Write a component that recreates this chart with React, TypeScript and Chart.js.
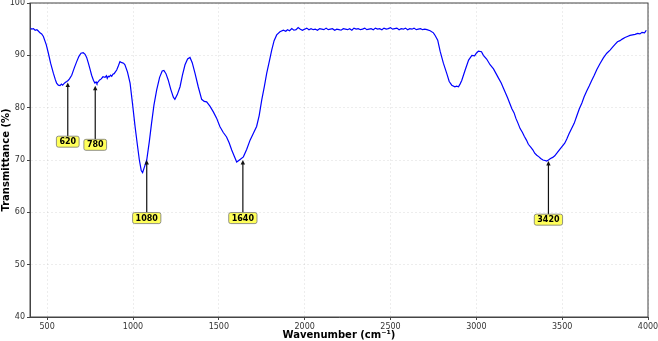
import { useEffect, useRef } from "react";
import { Chart, registerables } from "chart.js";
Chart.register(...registerables);

const wavenumbers = [
  400, 410, 420, 430, 440, 450, 458, 468, 478, 495, 507, 520, 536, 548, 555, 565, 575, 583, 590, 598, 605, 614, 622, 630, 643, 658, 672, 685, 697, 710, 721, 730, 740, 750, 759, 770, 778, 785, 790, 798, 806, 815, 825, 837, 845, 850, 856, 862, 869, 876, 883, 890, 905, 915, 924, 935, 945, 953, 968, 983, 998, 1012, 1025, 1037, 1048, 1056, 1065, 1080, 1095, 1108, 1122, 1138, 1155, 1170, 1180, 1192, 1205, 1220, 1235, 1244, 1258, 1274, 1288, 1303, 1318, 1332, 1345, 1361, 1380, 1400, 1415, 1429, 1448, 1468, 1487, 1506, 1525, 1545, 1560, 1575, 1590, 1604, 1620, 1643, 1662, 1682, 1700, 1720, 1735, 1750, 1765, 1779, 1795, 1808, 1822, 1837, 1856, 1876, 1890, 1900, 1912, 1925, 1937, 1950, 1962, 1975, 1987, 2000, 2012, 2025, 2037, 2050, 2062, 2075, 2087, 2100, 2112, 2125, 2137, 2150, 2162, 2175, 2187, 2200, 2212, 2225, 2237, 2250, 2262, 2275, 2287, 2300, 2312, 2325, 2337, 2350, 2362, 2375, 2387, 2400, 2412, 2425, 2437, 2450, 2462, 2475, 2487, 2500, 2512, 2525, 2537, 2550, 2562, 2575, 2587, 2600, 2612, 2625, 2637, 2650, 2662, 2675, 2687, 2700, 2712, 2731, 2750, 2760, 2775, 2789, 2808, 2828, 2842, 2857, 2875, 2885, 2896, 2905, 2915, 2935, 2955, 2974, 2990, 3000, 3012, 3030, 3041, 3060, 3080, 3100, 3115, 3130, 3145, 3158, 3170, 3182, 3195, 3207, 3220, 3230, 3243, 3255, 3268, 3280, 3292, 3303, 3318, 3330, 3340, 3352, 3365, 3375, 3388, 3400, 3410, 3420, 3432, 3445, 3457, 3469, 3485, 3500, 3515, 3527, 3540, 3555, 3570, 3585, 3600, 3615, 3628, 3643, 3658, 3672, 3687, 3702, 3720, 3740, 3760, 3779, 3795, 3808, 3822, 3837, 3850, 3866, 3880, 3895, 3910, 3925, 3940, 3953, 3965, 3980, 3990, 4000
];

const transmittance = [
  95.3, 95.0, 95.1, 94.8, 94.9, 94.6, 94.3, 94.1, 93.6, 92.0, 90.4, 88.5, 86.6, 85.3, 84.7, 84.3, 84.2, 84.5, 84.3, 84.6, 84.8, 85.0, 85.2, 85.5, 86.2, 87.6, 88.8, 89.8, 90.4, 90.5, 90.2, 89.6, 88.5, 87.3, 86.2, 85.2, 84.7, 84.9, 84.6, 85.0, 85.3, 85.5, 85.9, 85.8, 86.1, 85.6, 86.0, 85.9, 86.2, 86.0, 86.4, 86.5, 87.2, 88.0, 88.8, 88.6, 88.5, 88.2, 86.8, 84.7, 80.5, 76.4, 73.0, 70.0, 68.0, 67.6, 68.5, 70.0, 73.5, 77.0, 80.5, 83.4, 85.8, 87.0, 87.1, 86.5, 85.3, 83.5, 82.0, 81.6, 82.5, 84.0, 86.2, 88.2, 89.3, 89.6, 88.6, 86.6, 84.0, 81.6, 81.2, 81.1, 80.3, 79.2, 78.0, 76.4, 75.3, 74.4, 73.3, 71.9, 70.7, 69.6, 70.0, 70.6, 72.0, 73.8, 75.0, 76.4, 78.5, 81.5, 84.0, 86.6, 89.0, 91.0, 92.8, 93.9, 94.5, 94.8, 94.6, 94.9, 94.7, 95.1, 94.8, 94.9, 95.3, 95.0, 94.8, 95.0, 95.2, 94.9, 95.1, 94.9, 95.0, 94.8, 95.1, 95.0, 94.9, 95.2, 94.9, 95.0, 95.1, 94.8, 95.0, 94.9, 94.8, 95.1, 95.0, 94.9, 95.1, 94.8, 95.2, 95.0, 95.1, 94.9, 95.0, 95.2, 94.9, 95.0, 95.1, 94.9, 95.2, 95.0, 95.1, 94.9, 95.2, 95.0, 95.1, 95.3, 95.0, 95.1, 95.2, 94.9, 95.1, 95.0, 95.2, 94.9, 95.1, 95.0, 95.2, 94.9, 95.0, 95.1, 94.9, 95.0, 94.9, 94.7, 94.3, 93.8, 92.9, 90.8, 88.5, 86.5, 85.0, 84.3, 84.0, 84.1, 84.0, 84.5, 85.2, 87.2, 89.1, 90.0, 89.9, 90.4, 90.8, 90.7, 90.0, 89.3, 88.2, 87.4, 86.5, 85.6, 84.7, 83.7, 82.8, 81.9, 80.8, 79.8, 79.0, 78.0, 77.0, 76.0, 75.3, 74.5, 73.8, 73.0, 72.4, 71.9, 71.3, 70.9, 70.6, 70.3, 70.0, 69.9, 69.8, 70.0, 70.3, 70.5, 70.8, 71.3, 72.0, 72.6, 73.2, 74.0, 75.0, 76.0, 77.0, 78.4, 79.8, 80.9, 82.1, 83.2, 84.2, 85.2, 86.2, 87.3, 88.4, 89.5, 90.4, 91.0, 91.6, 92.1, 92.6, 92.8, 93.1, 93.4, 93.6, 93.8, 93.9, 94.0, 94.2, 94.1, 94.4, 94.3, 94.8
];

const xTicks = [500, 1000, 1500, 2000, 2500, 3000, 3500, 4000];
const yTicks = [40, 50, 60, 70, 80, 90, 100];

const peakLabels = ["620", "780", "1080", "1640", "3420"];
const peakPositions = [620, 780, 1080, 1640, 3420];
const peakTipValues = [84.8, 84.2, 70.0, 70.0, 69.8];
const peakLabelValues = [73.5, 72.9, 58.9, 58.9, 58.6];

const annotationPlugin = {
  id: "peakAnnotations",
  afterDatasetsDraw(chart: any) {
    const { ctx, scales, chartArea } = chart;
    const xs = scales.x;
    const ys = scales.y;
    ctx.save();
    ctx.strokeStyle = "#444";
    ctx.lineWidth = 1;
    ctx.strokeRect(chartArea.left, chartArea.top, chartArea.right - chartArea.left, chartArea.bottom - chartArea.top);
    ctx.font = "bold 8px 'DejaVu Sans'";
    ctx.textAlign = "center";
    ctx.textBaseline = "middle";
    for (let i = 0; i < peakLabels.length; i++) {
      const x = xs.getPixelForValue(peakPositions[i]);
      const yTip = ys.getPixelForValue(peakTipValues[i]);
      const yLab = ys.getPixelForValue(peakLabelValues[i]);
      const tw = ctx.measureText(peakLabels[i]).width;
      const bw = tw + 6;
      const bh = 11;
      ctx.strokeStyle = "#111";
      ctx.lineWidth = 1.2;
      ctx.beginPath();
      ctx.moveTo(x, yLab - bh / 2);
      ctx.lineTo(x, yTip + 3);
      ctx.stroke();
      ctx.fillStyle = "#111";
      ctx.beginPath();
      ctx.moveTo(x, yTip);
      ctx.lineTo(x - 2.2, yTip + 4.5);
      ctx.lineTo(x + 2.2, yTip + 4.5);
      ctx.closePath();
      ctx.fill();
      const bx = x - bw / 2;
      const by = yLab - bh / 2;
      const r = 2;
      ctx.beginPath();
      ctx.moveTo(bx + r, by);
      ctx.lineTo(bx + bw - r, by);
      ctx.quadraticCurveTo(bx + bw, by, bx + bw, by + r);
      ctx.lineTo(bx + bw, by + bh - r);
      ctx.quadraticCurveTo(bx + bw, by + bh, bx + bw - r, by + bh);
      ctx.lineTo(bx + r, by + bh);
      ctx.quadraticCurveTo(bx, by + bh, bx, by + bh - r);
      ctx.lineTo(bx, by + r);
      ctx.quadraticCurveTo(bx, by, bx + r, by);
      ctx.closePath();
      ctx.fillStyle = "rgba(255,255,60,0.85)";
      ctx.fill();
      ctx.strokeStyle = "#777";
      ctx.lineWidth = 0.8;
      ctx.stroke();
      ctx.fillStyle = "#000";
      ctx.fillText(peakLabels[i], x, yLab + 0.5);
    }
    ctx.restore();
  },
};

export default function App() {
  const ref = useRef<HTMLCanvasElement | null>(null);
  useEffect(() => {
    const canvas = ref.current;
    if (!canvas) return;
    const points = wavenumbers.map((w, i) => ({ x: w, y: transmittance[i] }));
    const chart = new Chart(canvas, {
      type: "line",
      data: {
        datasets: [
          {
            data: points,
            borderColor: "#0000ff",
            borderWidth: 1.2,
            pointRadius: 0,
            tension: 0,
            fill: false,
          },
        ],
      },
      options: {
        responsive: false,
        animation: false,
        maintainAspectRatio: false,
        layout: { padding: { left: 0, right: 10, top: 3, bottom: 0 } },
        plugins: { legend: { display: false }, tooltip: { enabled: false } },
        scales: {
          x: {
            type: "linear",
            min: 400,
            max: 4000,
            afterBuildTicks: (s: any) => {
              s.ticks = xTicks.map((v) => ({ value: v }));
            },
            afterFit: (s: any) => {
              s.height = 24;
              s.paddingRight = 0;
              s.paddingLeft = 0;
            },
            grid: {
              color: "rgba(0,0,0,0.07)",
              tickColor: "#444",
              tickLength: 3,
              tickBorderDash: [],
            },
            border: { color: "#444", width: 1, dash: [2, 2] },
            ticks: {
              color: "#333",
              font: { family: "'DejaVu Sans'", size: 8 },
              padding: 2,
              maxRotation: 0,
              autoSkip: false,
              callback: (v: any) => String(v),
            },
            title: {
              display: true,
              text: "Wavenumber (cm⁻¹)",
              color: "#000",
              font: { family: "'DejaVu Sans'", size: 10, weight: "bold" },
              padding: { top: 0, bottom: 0 },
            },
          },
          y: {
            type: "linear",
            min: 40,
            max: 100,
            afterBuildTicks: (s: any) => {
              s.ticks = yTicks.map((v) => ({ value: v }));
            },
            afterFit: (s: any) => {
              s.width = 30;
              s.paddingTop = 0;
              s.paddingBottom = 0;
            },
            grid: {
              color: "rgba(0,0,0,0.07)",
              tickColor: "#444",
              tickLength: 3,
              tickBorderDash: [],
            },
            border: { color: "#444", width: 1, dash: [2, 2] },
            ticks: {
              color: "#333",
              font: { family: "'DejaVu Sans'", size: 8 },
              padding: 2,
              autoSkip: false,
              callback: (v: any) => String(v),
            },
            title: {
              display: true,
              text: "Transmittance (%)",
              color: "#000",
              font: { family: "'DejaVu Sans'", size: 10, weight: "bold" },
              padding: { top: 0, bottom: 1 },
            },
          },
        },
      },
      plugins: [annotationPlugin],
    });
    return () => chart.destroy();
  }, []);
  return (
    <div style={{ position: "absolute", left: 0, top: 0, width: 658, height: 341, background: "#fff" }}>
      <canvas ref={ref} width={658} height={341} style={{ width: 658, height: 341 }} />
    </div>
  );
}
